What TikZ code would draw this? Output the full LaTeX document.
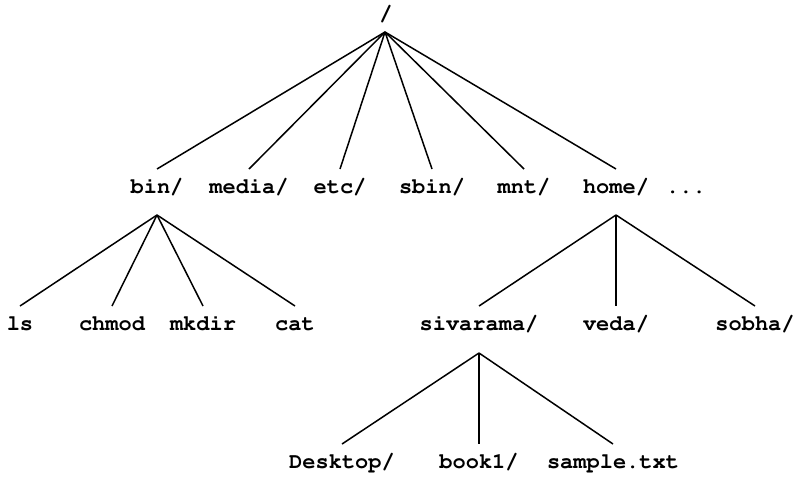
\documentclass[tikz,border=0pt]{standalone}
\usepackage[T1]{fontenc}
\usepackage{courier}
\usepackage{tikz}
\usetikzlibrary{positioning}

\begin{document}
\begin{tikzpicture}[x=0.5pt,y=-0.5pt,
  dirname/.style={font=\ttfamily\bfseries\fontsize{11}{13}\selectfont,anchor=north,
    inner xsep=0pt,inner ysep=5pt,text height=7pt,text depth=2pt},
  link/.style={line width=0.75pt}]
\useasboundingbox (0,0) rectangle (795,477);
\node[font=\ttfamily\bfseries\fontsize{11}{13}\selectfont] (root) at (386,14) {/};
\coordinate (rootj) at (385,32);
\node[dirname] (bin) at (157,169) {bin/};
\node[dirname] (media) at (249,169) {media/};
\node[dirname] (etc) at (340,169) {etc/};
\node[dirname] (sbin) at (432,169) {sbin/};
\node[dirname] (mnt) at (524,169) {mnt/};
\node[dirname] (home) at (616,169) {home/};
\node[dirname] (more) at (686,169) {...};
\foreach \d in {bin,media,etc,sbin,mnt,home}
  \draw[link] (rootj) -- (\d.north);
\coordinate (binj) at (157,215);
\node[dirname] (ls) at (20,306) {ls};
\node[dirname] (chmod) at (112,306) {chmod};
\node[dirname] (mkdir) at (203,306) {mkdir};
\node[dirname] (cat) at (295,306) {cat};
\foreach \d in {ls,chmod,mkdir,cat}
  \draw[link] (binj) -- (\d.north);
\coordinate (homej) at (616,215);
\node[dirname] (sivarama) at (479,306) {sivarama/};
\node[dirname] (veda) at (616,306) {veda/};
\node[dirname] (sobha) at (755,306) {sobha/};
\foreach \d in {sivarama,veda,sobha}
  \draw[link] (homej) -- (\d.north);
\coordinate (sivaramaj) at (479,353);
\node[dirname] (desktop) at (342,444) {Desktop/};
\node[dirname] (book) at (479,444) {book1/};
\node[dirname] (sample) at (613,444) {sample.txt};
\foreach \d in {desktop,book,sample}
  \draw[link] (sivaramaj) -- (\d.north);
\end{tikzpicture}
\end{document}
